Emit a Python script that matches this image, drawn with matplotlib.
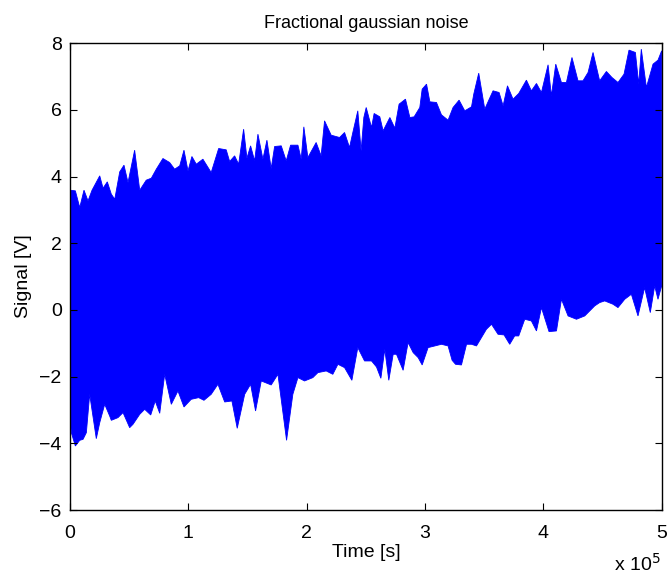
import numpy as np
import matplotlib
matplotlib.use("Agg")
import matplotlib.pyplot as plt

plt.rcParams["font.family"] = ["Liberation Sans", "DejaVu Sans"]

# enveloppe haute du signal (temps en unites de 1e5 s, tension en V)
t_haut = [0.000, 0.045, 0.082, 0.118, 0.152, 0.186, 0.251, 0.279, 0.315, 0.349,
          0.378, 0.420, 0.456, 0.490, 0.546, 0.589, 0.644, 0.687, 0.729, 0.785,
          0.842, 0.884, 0.927, 0.963, 0.997, 1.030, 1.067, 1.123, 1.193, 1.256,
          1.320, 1.349, 1.391, 1.425, 1.467, 1.495, 1.526, 1.560, 1.588, 1.630,
          1.664, 1.700, 1.729, 1.785, 1.827, 1.864, 1.926, 1.954, 1.976, 2.010,
          2.080, 2.122, 2.151, 2.207, 2.278, 2.320, 2.362, 2.390, 2.432, 2.460,
          2.483, 2.503, 2.548, 2.570, 2.618, 2.646, 2.703, 2.745, 2.781, 2.835,
          2.872, 2.908, 2.956, 2.976, 3.013, 3.041, 3.097, 3.139, 3.195, 3.237,
          3.288, 3.336, 3.393, 3.412, 3.454, 3.505, 3.539, 3.575, 3.626, 3.660,
          3.697, 3.744, 3.792, 3.857, 3.899, 3.942, 3.984, 4.040, 4.068, 4.105,
          4.153, 4.195, 4.242, 4.293, 4.335, 4.378, 4.420, 4.476, 4.533, 4.580,
          4.631, 4.682, 4.724, 4.778, 4.806, 4.828, 4.871, 4.927, 4.969, 5.000]
v_haut = [3.59, 3.57, 3.07, 3.59, 3.27, 3.59, 4.02, 3.65, 3.84, 3.47,
          3.32, 4.14, 4.34, 3.82, 4.79, 3.59, 3.89, 3.95, 4.22, 4.54,
          4.42, 4.22, 4.32, 4.79, 4.17, 4.60, 4.37, 4.52, 4.12, 4.84,
          4.80, 4.45, 4.62, 4.37, 5.42, 4.55, 4.92, 4.47, 5.27, 4.52,
          5.09, 4.24, 4.90, 4.92, 4.47, 4.94, 4.94, 4.52, 5.49, 4.57,
          5.02, 4.62, 5.67, 5.24, 5.17, 5.32, 4.87, 5.32, 5.97, 4.77,
          5.77, 6.07, 5.47, 5.89, 5.79, 5.37, 5.77, 5.45, 6.17, 6.32,
          5.77, 5.79, 6.07, 6.62, 6.77, 6.24, 6.22, 5.85, 5.69, 6.07,
          6.29, 5.97, 6.09, 6.47, 7.10, 6.02, 6.29, 6.57, 6.52, 6.12,
          6.72, 6.32, 6.49, 6.89, 6.57, 6.79, 6.52, 7.35, 6.42, 7.37,
          6.82, 6.82, 7.57, 6.87, 6.87, 7.12, 7.72, 6.87, 7.15, 6.97,
          6.82, 7.07, 7.79, 7.72, 6.77, 7.82, 6.67, 7.37, 7.49, 7.77]

# enveloppe basse
t_bas = [0.000, 0.011, 0.045, 0.082, 0.110, 0.138, 0.166, 0.222, 0.251, 0.293,
         0.335, 0.349, 0.405, 0.448, 0.504, 0.532, 0.589, 0.631, 0.682, 0.720,
         0.758, 0.800, 0.856, 0.912, 0.963, 1.024, 1.087, 1.132, 1.193, 1.250,
         1.307, 1.368, 1.413, 1.476, 1.526, 1.568, 1.616, 1.700, 1.757, 1.830,
         1.883, 1.926, 1.982, 2.052, 2.095, 2.165, 2.221, 2.264, 2.320, 2.382,
         2.432, 2.489, 2.548, 2.590, 2.627, 2.660, 2.694, 2.731, 2.759, 2.815,
         2.857, 2.900, 2.942, 2.976, 3.026, 3.083, 3.139, 3.195, 3.229, 3.258,
         3.308, 3.351, 3.393, 3.435, 3.477, 3.519, 3.562, 3.617, 3.668, 3.716,
         3.758, 3.792, 3.843, 3.899, 3.942, 3.984, 4.048, 4.111, 4.153, 4.209,
         4.280, 4.350, 4.392, 4.434, 4.476, 4.519, 4.589, 4.631, 4.688, 4.744,
         4.800, 4.856, 4.904, 4.941, 4.969, 5.000]
v_bas = [-3.15, -3.68, -4.08, -3.91, -3.88, -3.68, -2.53, -3.86, -3.38, -2.83,
         -3.18, -3.31, -3.23, -3.08, -3.53, -3.43, -3.13, -2.98, -3.15, -2.73,
         -3.10, -1.93, -2.83, -2.43, -2.91, -2.68, -2.63, -2.71, -2.53, -2.23,
         -2.76, -2.73, -3.55, -2.53, -2.23, -3.03, -2.13, -2.25, -1.93, -3.91,
         -2.53, -2.03, -2.13, -2.03, -1.88, -1.83, -1.93, -1.63, -1.73, -2.11,
         -1.13, -1.53, -1.53, -1.71, -2.05, -1.18, -2.11, -1.33, -1.33, -1.81,
         -0.98, -1.28, -1.43, -1.65, -1.13, -1.08, -1.03, -1.08, -1.51, -1.63,
         -1.65, -1.03, -1.03, -1.08, -0.83, -0.58, -0.43, -0.73, -0.75, -1.03,
         -0.78, -0.78, -0.28, -0.33, -0.63, 0.07, -0.65, -0.63, 0.32, -0.18,
         -0.28, -0.18, -0.03, 0.12, 0.22, 0.27, 0.17, 0.07, 0.32, 0.47,
         -0.18, 0.67, -0.08, 0.72, 0.32, 0.72]

x_ticks = [0, 1, 2, 3, 4, 5]
y_ticks = [-6, -4, -2, 0, 2, 4, 6, 8]

fig = plt.figure(figsize=(6.67, 5.75), dpi=100)
ax = fig.add_axes([0.105, 0.113, 0.887, 0.812])

# polygone : haut de gauche a droite, bas de droite a gauche
tx = np.concatenate([np.array(t_haut), np.array(t_bas)[::-1]]) * 1e5
vy = np.concatenate([np.array(v_haut), np.array(v_bas)[::-1]])
ax.fill(tx, vy, color="#0000ff", linewidth=0.6, edgecolor="#0000ff")

ax.set_xlim(0, 5e5)
ax.set_ylim(-6, 8)
ax.set_xticks([x * 1e5 for x in x_ticks])
ax.set_xticklabels([str(x) for x in x_ticks])
ax.set_yticks(y_ticks)
ax.set_yticklabels([str(y).replace("-", "\u2212") for y in y_ticks])
ax.tick_params(direction="in", top=True, right=True, length=5, width=0.8,
               labelsize=14)
ax.tick_params(axis="x", pad=11)
ax.tick_params(axis="y", pad=6)
for s in ax.spines.values():
    s.set_linewidth(1.0)

ax.set_title("Fractional gaussian noise", fontsize=13, pad=11)
ax.set_xlabel("Time [s]", fontsize=14, labelpad=1)
ax.set_ylabel("Signal [V]", fontsize=14, labelpad=5)
fig.text(0.955, 0.0, r"x 10$^{5}$", fontsize=14, ha="center", va="bottom")

fig.savefig("out.png", dpi=100)
plt.close("all")
